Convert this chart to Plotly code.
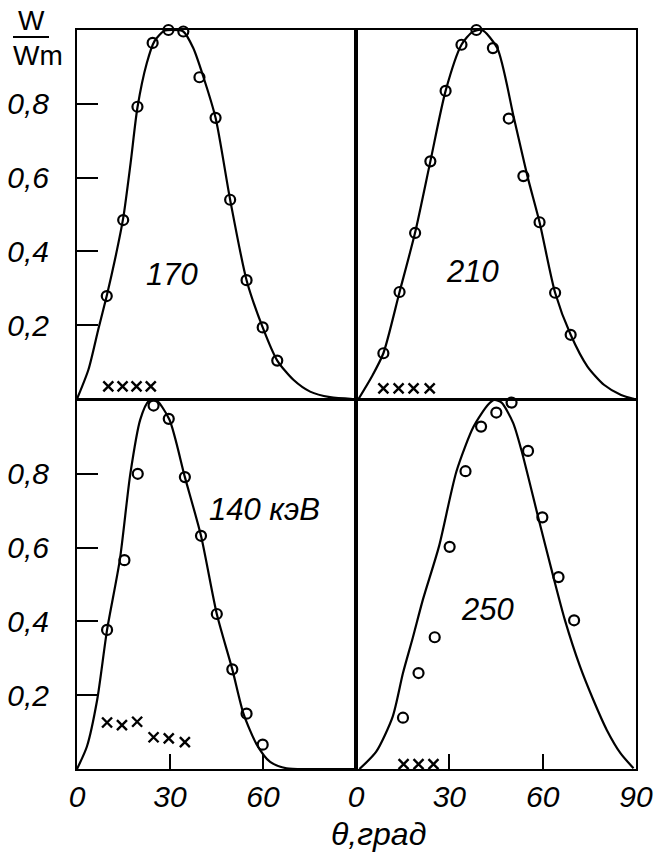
import plotly.graph_objects as go

W, H = 661, 857

# ---------------- data ----------------
# top-left panel: 170
tl_curve_x = [0, 3.7, 6.9, 9.6, 12.3, 14.9, 17.3, 19.5, 22.5, 25, 28, 31, 34.3, 37.5, 40.8, 44.7, 49.4, 54.7, 59.9, 64.6, 69.8, 75.2, 81.6, 89]
tl_curve_y = [0, 0.08, 0.19, 0.28, 0.38, 0.49, 0.64, 0.79, 0.91, 0.97, 0.997, 1.0, 0.996, 0.951, 0.872, 0.762, 0.54, 0.322, 0.194, 0.104, 0.052, 0.02, 0.005, 0]
tl_circ_x = [9.6, 14.9, 19.5, 24.4, 29.5, 34.3, 39.5, 44.7, 49.4, 54.7, 59.9, 64.6]
tl_circ_y = [0.279, 0.485, 0.792, 0.965, 1.0, 0.996, 0.872, 0.762, 0.54, 0.322, 0.194, 0.104]
tl_cross_x = [10.1, 14.7, 19.2, 23.8]
tl_cross_y = [0.034, 0.034, 0.034, 0.034]

# top-right panel: 210
tr_curve_x = [0.8, 5.1, 8.8, 14.0, 19.0, 23.9, 28.8, 33.9, 37.5, 40.5, 45.4, 50.8, 55.1, 59.0, 64.0, 69.0, 74.4, 79.8, 85.2, 89.5]
tr_curve_y = [0, 0.061, 0.124, 0.29, 0.451, 0.644, 0.835, 0.96, 0.995, 1.0, 0.951, 0.76, 0.604, 0.479, 0.288, 0.174, 0.088, 0.038, 0.011, 0]
tr_circ_x = [8.8, 14.0, 19.0, 23.9, 28.8, 33.9, 38.7, 44.0, 49.1, 53.8, 59.0, 64.0, 69.0]
tr_circ_y = [0.124, 0.29, 0.45, 0.644, 0.835, 0.96, 1.0, 0.951, 0.76, 0.604, 0.479, 0.288, 0.174]
tr_cross_x = [8.8, 13.7, 18.5, 23.7]
tr_cross_y = [0.029, 0.029, 0.029, 0.029]

# bottom-left panel: 140 keV
bl_curve_x = [0, 3.2, 6.5, 9.7, 13.8, 17.2, 20.4, 23.1, 25.5, 29.8, 34.8, 40.0, 45.1, 50.1, 53.7, 58.0, 62.3, 67.6, 75, 90]
bl_curve_y = [0, 0.061, 0.187, 0.377, 0.566, 0.8, 0.947, 0.997, 1.0, 0.947, 0.791, 0.632, 0.42, 0.27, 0.15, 0.066, 0.019, 0.002, 0, 0]
bl_circ_x = [9.7, 15.3, 19.6, 24.7, 29.6, 34.8, 40.0, 45.1, 50.1, 54.7, 59.9]
bl_circ_y = [0.377, 0.566, 0.8, 0.985, 0.949, 0.791, 0.632, 0.42, 0.27, 0.15, 0.066]
bl_cross_x = [9.7, 14.5, 19.4, 24.7, 29.6, 34.8]
bl_cross_y = [0.126, 0.119, 0.128, 0.086, 0.083, 0.073]

# bottom-right panel: 250
br_curve_x = [1.1, 6.5, 11.8, 15.1, 18.3, 21.5, 26.7, 32.3, 37.8, 42.5, 44.5, 46.8, 50.5, 53.2, 58.6, 63.4, 67.2, 72.0, 76.3, 80.6, 85.0, 89.2]
br_curve_y = [0, 0.047, 0.142, 0.26, 0.357, 0.459, 0.604, 0.807, 0.928, 0.988, 1.0, 0.993, 0.938, 0.863, 0.681, 0.522, 0.402, 0.278, 0.187, 0.106, 0.043, 0.002]
br_circ_x = [15.1, 20.1, 25.3, 30.1, 35.2, 40.2, 45.1, 50.0, 55.3, 59.9, 65.1, 70.1]
br_circ_y = [0.139, 0.26, 0.357, 0.602, 0.807, 0.928, 0.966, 0.993, 0.862, 0.682, 0.52, 0.403]
br_cross_x = [15.3, 20.1, 24.9]
br_cross_y = [0.013, 0.013, 0.013]

panel_labels = ["170", "210", "140 кэВ", "250"]
label_x = [30.6, 37.4, 60.6, 42.3]
label_y = [0.338, 0.346, 0.704, 0.432]

x_tick_left = [0, 30, 60]
x_tick_right = [0, 30, 60, 90]
y_tick_vals = [0.2, 0.4, 0.6, 0.8]
y_tick_text = ["0,2", "0,4", "0,6", "0,8"]

FONT = "Liberation Sans"

fig = go.Figure()

panels = [
    ("x3", "y3", tl_curve_x, tl_curve_y, tl_circ_x, tl_circ_y, tl_cross_x, tl_cross_y),
    ("x4", "y4", tr_curve_x, tr_curve_y, tr_circ_x, tr_circ_y, tr_cross_x, tr_cross_y),
    ("x", "y", bl_curve_x, bl_curve_y, bl_circ_x, bl_circ_y, bl_cross_x, bl_cross_y),
    ("x2", "y2", br_curve_x, br_curve_y, br_circ_x, br_circ_y, br_cross_x, br_cross_y),
]

for xa, ya, cx, cy, ox, oy, kx, ky in panels:
    fig.add_trace(go.Scatter(x=cx, y=cy, xaxis=xa, yaxis=ya, mode="lines",
                             line=dict(color="black", width=2.2, shape="spline", smoothing=0.7),
                             showlegend=False, hoverinfo="skip"))
    fig.add_trace(go.Scatter(x=ox, y=oy, xaxis=xa, yaxis=ya, mode="markers", cliponaxis=False,
                             marker=dict(symbol="circle-open", size=10, color="black",
                                         line=dict(width=2.2, color="black")),
                             showlegend=False))
    fig.add_trace(go.Scatter(x=kx, y=ky, xaxis=xa, yaxis=ya, mode="markers", cliponaxis=False,
                             marker=dict(symbol="x-thin-open", size=10, color="black",
                                         line=dict(width=2.4, color="black")),
                             showlegend=False))

xl = [77 / W, 356 / W]
xr = [356 / W, 636 / W]
yb = [(H - 769) / H, (H - 400) / H]
yt = [(H - 399) / H, (H - 30) / H]

tickfont = dict(family=FONT, size=30, color="black", style="italic")
common = dict(showgrid=False, zeroline=False, showline=True, mirror=True,
              linecolor="black", linewidth=2, fixedrange=True, automargin=False)

fig.update_layout(
    width=W, height=H, autosize=False,
    margin=dict(l=0, r=0, t=0, b=0, autoexpand=False),
    paper_bgcolor="white", plot_bgcolor="white",
    xaxis=dict(domain=xl, anchor="y", range=[0, 90], tickmode="array",
               tickvals=x_tick_left, ticktext=[str(v) for v in x_tick_left],
               ticks="inside", ticklen=15, tickwidth=2, tickcolor="black",
               tickfont=tickfont, ticklabelstandoff=0, **common),
    yaxis=dict(domain=yb, anchor="x", range=[0, 1], tickmode="array",
               tickvals=y_tick_vals, ticktext=y_tick_text,
               ticks="inside", ticklen=21, tickwidth=2, tickcolor="black",
               tickfont=tickfont, ticklabelstandoff=20, **common),
    xaxis2=dict(domain=xr, anchor="y2", range=[0, 90], tickmode="array",
                tickvals=x_tick_right, ticktext=[str(v) for v in x_tick_right],
                ticks="inside", ticklen=15, tickwidth=2, tickcolor="black",
                tickfont=tickfont, ticklabelstandoff=0, **common),
    yaxis2=dict(domain=yb, anchor="x2", range=[0, 1], showticklabels=False, ticks="", **common),
    xaxis3=dict(domain=xl, anchor="y3", range=[0, 90], showticklabels=False, ticks="", **common),
    yaxis3=dict(domain=yt, anchor="x3", range=[0, 1], tickmode="array",
                tickvals=y_tick_vals, ticktext=y_tick_text,
                ticks="inside", ticklen=21, tickwidth=2, tickcolor="black",
                tickfont=tickfont, ticklabelstandoff=20, **common),
    xaxis4=dict(domain=xr, anchor="y4", range=[0, 90], showticklabels=False, ticks="", **common),
    yaxis4=dict(domain=yt, anchor="x4", range=[0, 1], showticklabels=False, ticks="", **common),
)

refs = [("x3", "y3"), ("x4", "y4"), ("x", "y"), ("x2", "y2")]
for (xa, ya), txt, lx, ly in zip(refs, panel_labels, label_x, label_y):
    fig.add_annotation(x=lx, y=ly, xref=xa, yref=ya, text=txt, showarrow=False,
                       xanchor="center", yanchor="middle",
                       font=dict(family=FONT, size=31, color="black", style="italic"))

# axis title
fig.add_annotation(x=378 / W, y=1 - 834 / H, xref="paper", yref="paper", text="θ,град",
                   showarrow=False, xanchor="center", yanchor="middle",
                   font=dict(family=FONT, size=32, color="black", style="italic"))

# W / Wm fraction label
fig.add_annotation(x=31 / W, y=1 - 20 / H, xref="paper", yref="paper", text="W",
                   showarrow=False, xanchor="center", yanchor="middle",
                   font=dict(family=FONT, size=28, color="black"))
fig.add_annotation(x=38 / W, y=1 - 56 / H, xref="paper", yref="paper", text="Wm",
                   showarrow=False, xanchor="center", yanchor="middle",
                   font=dict(family=FONT, size=28, color="black"))
fig.add_shape(type="line", xref="paper", yref="paper",
              x0=13 / W, x1=49 / W, y0=1 - 37 / H, y1=1 - 37 / H,
              line=dict(color="black", width=2.2))

fig.write_html("out.html", config={"displayModeBar": False},
               post_script="document.body.style.margin='0px';")
